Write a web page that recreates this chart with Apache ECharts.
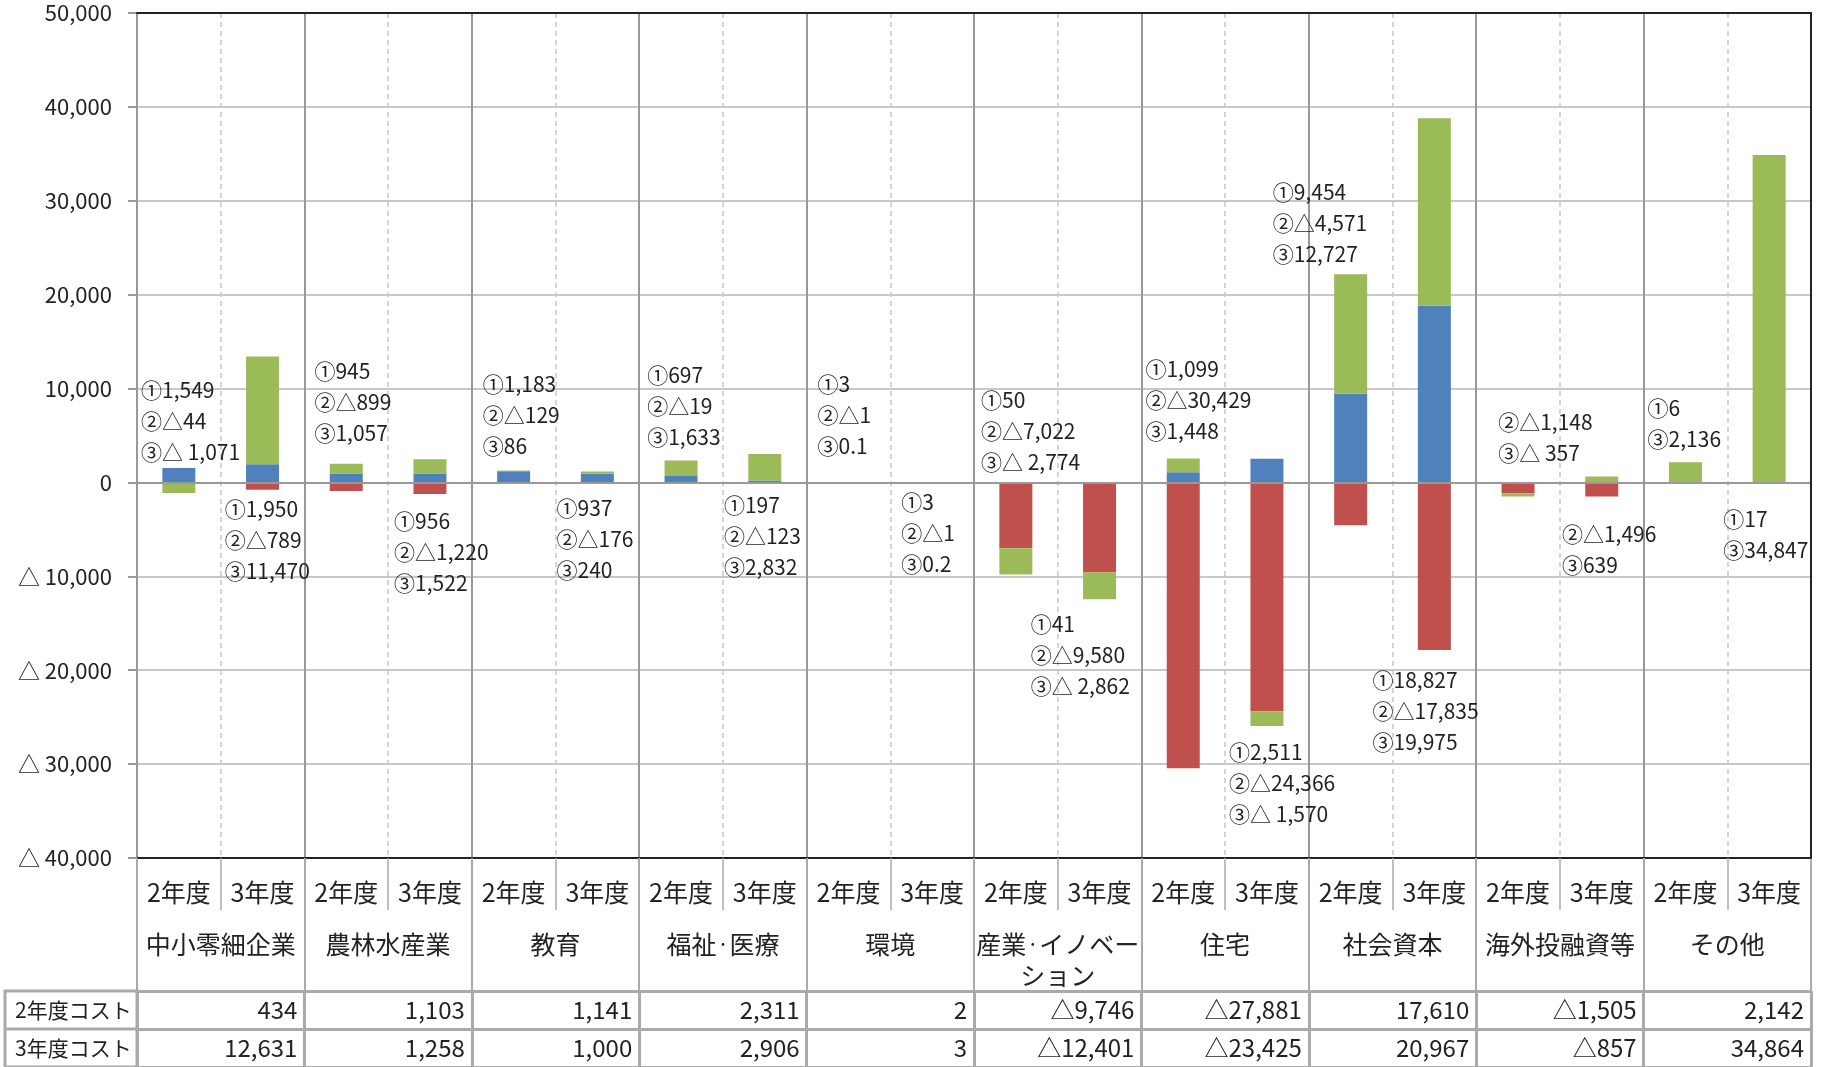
<!DOCTYPE html>
<html>
<head>
<meta charset="utf-8">
<script src="https://cdn.jsdelivr.net/npm/echarts@6/dist/echarts.min.js"></script>
<style>
  html, body { margin: 0; padding: 0; background: #fff; }
  #chart { width: 1824px; height: 1067px; }
</style>
</head>
<body>
<div id="chart"></div>
<script>
const years = ['2年度', '3年度'];
const sectors = ['中小零細企業', '農林水産業', '教育', '福祉・医療', '環境', '産業・イノベー\nション', '住宅', '社会資本', '海外投融資等', 'その他'];
const rowNames = ['2年度コスト', '3年度コスト'];

// ①②③ per bar (中小 2年度, 中小 3年度, 農林 2年度, ...)
const part1 = [1549, 1950, 945, 956, 1183, 937, 697, 197, 3, 3, 50, 41, 1099, 2511, 9454, 18827, null, null, 6, 17];
const part2 = [-44, -789, -899, -1220, -129, -176, -19, -123, -1, -1, -7022, -9580, -30429, -24366, -4571, -17835, -1148, -1496, null, null];
const part3 = [-1071, 11470, 1057, 1522, 86, 240, 1633, 2832, 0.1, 0.2, -2774, -2862, 1448, -1570, 12727, 19975, -357, 639, 2136, 34847];

const cost2 = [434, 1103, 1141, 2311, 2, -9746, -27881, 17610, -1505, 2142];
const cost3 = [12631, 1258, 1000, 2906, 3, -12401, -23425, 20967, -857, 34864];

const yTicks = { min: -40000, max: 50000, interval: 10000 };

// small hand nudges [dx, dy] for the annotation boxes
const labelNudge = [[0, 9], [0, -7], [6, -6], [2, 1], [7, 0], [-3, -3], [4, 1], [-3, -5], [7, -12], [7, -7],
  [3, 5], [-31, -2], [0, -3], [0, 0], [-40, 4], [-24, 4], [18, -5], [-2, 11], [0, 1], [-8, 10]];

const FONT = '"Noto Sans CJK JP", "Noto Sans", sans-serif';
const TEXT = '#222';
const colors = ['#4F81BD', '#C0504D', '#9BBB59'];
const marks = ['①', '②', '③'];

const barCats = sectors.flatMap(() => years);
const parts = [part1, part2, part3];

function fmt(v) {
  return v.toLocaleString('en-US', { maximumFractionDigits: 1 });
}
function signed(v, sp) {
  return v < 0 ? '△' + sp + fmt(-v) : fmt(v);
}

// label anchor: top of positive stack for 2年度, bottom of negative stack for 3年度
const labelData = barCats.map((c, i) => {
  let pos = 0, neg = 0;
  parts.forEach(p => {
    const v = p[i];
    if (v == null) return;
    if (v > 0) pos += v; else neg += v;
  });
  const above = i % 2 === 0;
  return [i, above ? pos : neg, above ? 1 : 0];
});
const labelText = barCats.map((c, i) => parts
  .map((p, k) => p[i] == null ? null : marks[k] + signed(p[i], k === 2 ? ' ' : ''))
  .filter(Boolean).join('\n'));

const tableData = [];
sectors.forEach((s, i) => {
  tableData.push([i, 0, cost2[i]]);
  tableData.push([i, 1, cost3[i]]);
});

const chart = echarts.init(document.getElementById('chart'));

const barSeries = parts.map((p, k) => ({
  type: 'bar',
  name: marks[k],
  stack: 'total',
  barWidth: 33,
  xAxisIndex: 0,
  yAxisIndex: 0,
  itemStyle: { color: colors[k] },
  data: p,
  markLine: k === 0 ? {
    silent: true,
    symbol: 'none',
    label: { show: false },
    lineStyle: { color: '#999', width: 2, type: 'solid' },
    data: [{ yAxis: 0 }]
  } : undefined
}));

chart.setOption({
  animation: false,
  textStyle: { fontFamily: FONT },
  grid: [
    { left: 137, right: 13, top: 13, bottom: 209, outerBoundsMode: 'none' },
    { left: 137, right: 13, top: 991, height: 76, outerBoundsMode: 'none' }
  ],
  xAxis: [
    {
      type: 'category', gridIndex: 0, data: barCats, position: 'bottom',
      axisLine: { show: true, onZero: false, lineStyle: { color: '#222', width: 2 } },
      axisTick: { show: true, interval: 0, length: 52, lineStyle: { color: '#aaa', width: 1.5 } },
      axisLabel: { interval: 0, fontSize: 25, lineHeight: 30, margin: 19, color: TEXT, fontFamily: FONT },
      splitLine: { show: true, interval: 0, lineStyle: { color: '#c8c8c8', width: 1.5, type: [5, 4] } }
    },
    {
      type: 'category', gridIndex: 0, data: sectors, position: 'bottom',
      axisLine: { show: false, onZero: false },
      axisTick: { show: true, interval: 0, length: 133, lineStyle: { color: '#aaa', width: 2 } },
      axisLabel: {
        interval: 0, fontSize: 25, lineHeight: 31, margin: 71, color: TEXT, fontFamily: FONT,
        // narrow middle dot, as in the source table
        formatter: v => v.split('・').join('{dot|・}'),
        rich: { dot: { fontSize: 13, lineHeight: 31, color: TEXT, fontFamily: FONT, verticalAlign: 'middle' } }
      },
      splitLine: { show: true, interval: 0, lineStyle: { color: '#999', width: 2 } }
    },
    {
      type: 'category', gridIndex: 0, data: barCats, position: 'top', z: 5,
      axisLine: { show: true, onZero: false, lineStyle: { color: '#222', width: 2 } },
      axisTick: { show: false }, axisLabel: { show: false }, splitLine: { show: false }
    },
    {
      type: 'category', gridIndex: 1, data: sectors,
      axisLine: { show: false }, axisTick: { show: false }, axisLabel: { show: false },
      splitLine: { show: true, interval: 0, lineStyle: { color: '#aaa', width: 3 } }
    }
  ],
  yAxis: [
    {
      type: 'value', gridIndex: 0, min: yTicks.min, max: yTicks.max, interval: yTicks.interval,
      axisLine: { show: true, lineStyle: { color: '#999', width: 2 } },
      axisTick: { show: true, length: 9, lineStyle: { color: '#999', width: 2 } },
      axisLabel: {
        fontSize: 22, margin: 25, color: TEXT, fontFamily: FONT,
        formatter: v => v < 0 ? '△ ' + fmt(-v) : fmt(v)
      },
      splitLine: { show: true, lineStyle: { color: '#c8c8c8', width: 2 } }
    },
    {
      type: 'value', gridIndex: 0, position: 'right', min: yTicks.min, max: yTicks.max, interval: yTicks.interval, z: 5,
      axisLine: { show: true, lineStyle: { color: '#222', width: 2 } },
      axisTick: { show: false }, axisLabel: { show: false }, splitLine: { show: false }
    },
    {
      type: 'category', gridIndex: 1, data: rowNames, inverse: true,
      axisLine: { show: false }, axisTick: { show: false },
      axisLabel: { fontSize: 21, align: 'left', margin: 122, color: TEXT, fontFamily: FONT },
      splitLine: { show: true, interval: 0, lineStyle: { color: '#aaa', width: 3 } }
    }
  ],
  graphic: [
    { type: 'rect', shape: { x: 5, y: 991, width: 132, height: 76 }, style: { fill: 'none', stroke: '#aaa', lineWidth: 3 } },
    { type: 'line', shape: { x1: 5, y1: 1029, x2: 137, y2: 1029 }, style: { stroke: '#aaa', lineWidth: 3 } }
  ],
  series: [
    ...barSeries,
    {
      type: 'custom',
      xAxisIndex: 0,
      yAxisIndex: 0,
      silent: true,
      data: labelData,
      renderItem: (params, api) => {
        const i = params.dataIndex;
        const above = api.value(2) === 1;
        const pt = api.coord([api.value(0), api.value(1)]);
        const band = api.size([1, 0])[0];
        const nd = labelNudge[i];
        return {
          type: 'text',
          x: pt[0] - band / 2 + 4 + nd[0],
          y: pt[1] + (above ? -9 : 11) + nd[1],
          style: {
            text: labelText[i],
            fill: TEXT,
            fontSize: 21,
            lineHeight: 31,
            fontFamily: FONT,
            align: 'left',
            verticalAlign: above ? 'bottom' : 'top'
          }
        };
      }
    },
    {
      type: 'custom',
      xAxisIndex: 3,
      yAxisIndex: 2,
      silent: true,
      data: tableData,
      renderItem: (params, api) => {
        const pt = api.coord([api.value(0), api.value(1)]);
        const w = api.size([1, 1])[0];
        return {
          type: 'text',
          x: pt[0] + w / 2 - 7,
          y: pt[1],
          style: {
            text: signed(api.value(2), ''),
            fill: TEXT,
            fontSize: 24,
            fontFamily: FONT,
            align: 'right',
            verticalAlign: 'middle'
          }
        };
      }
    }
  ]
});
</script>
</body>
</html>
